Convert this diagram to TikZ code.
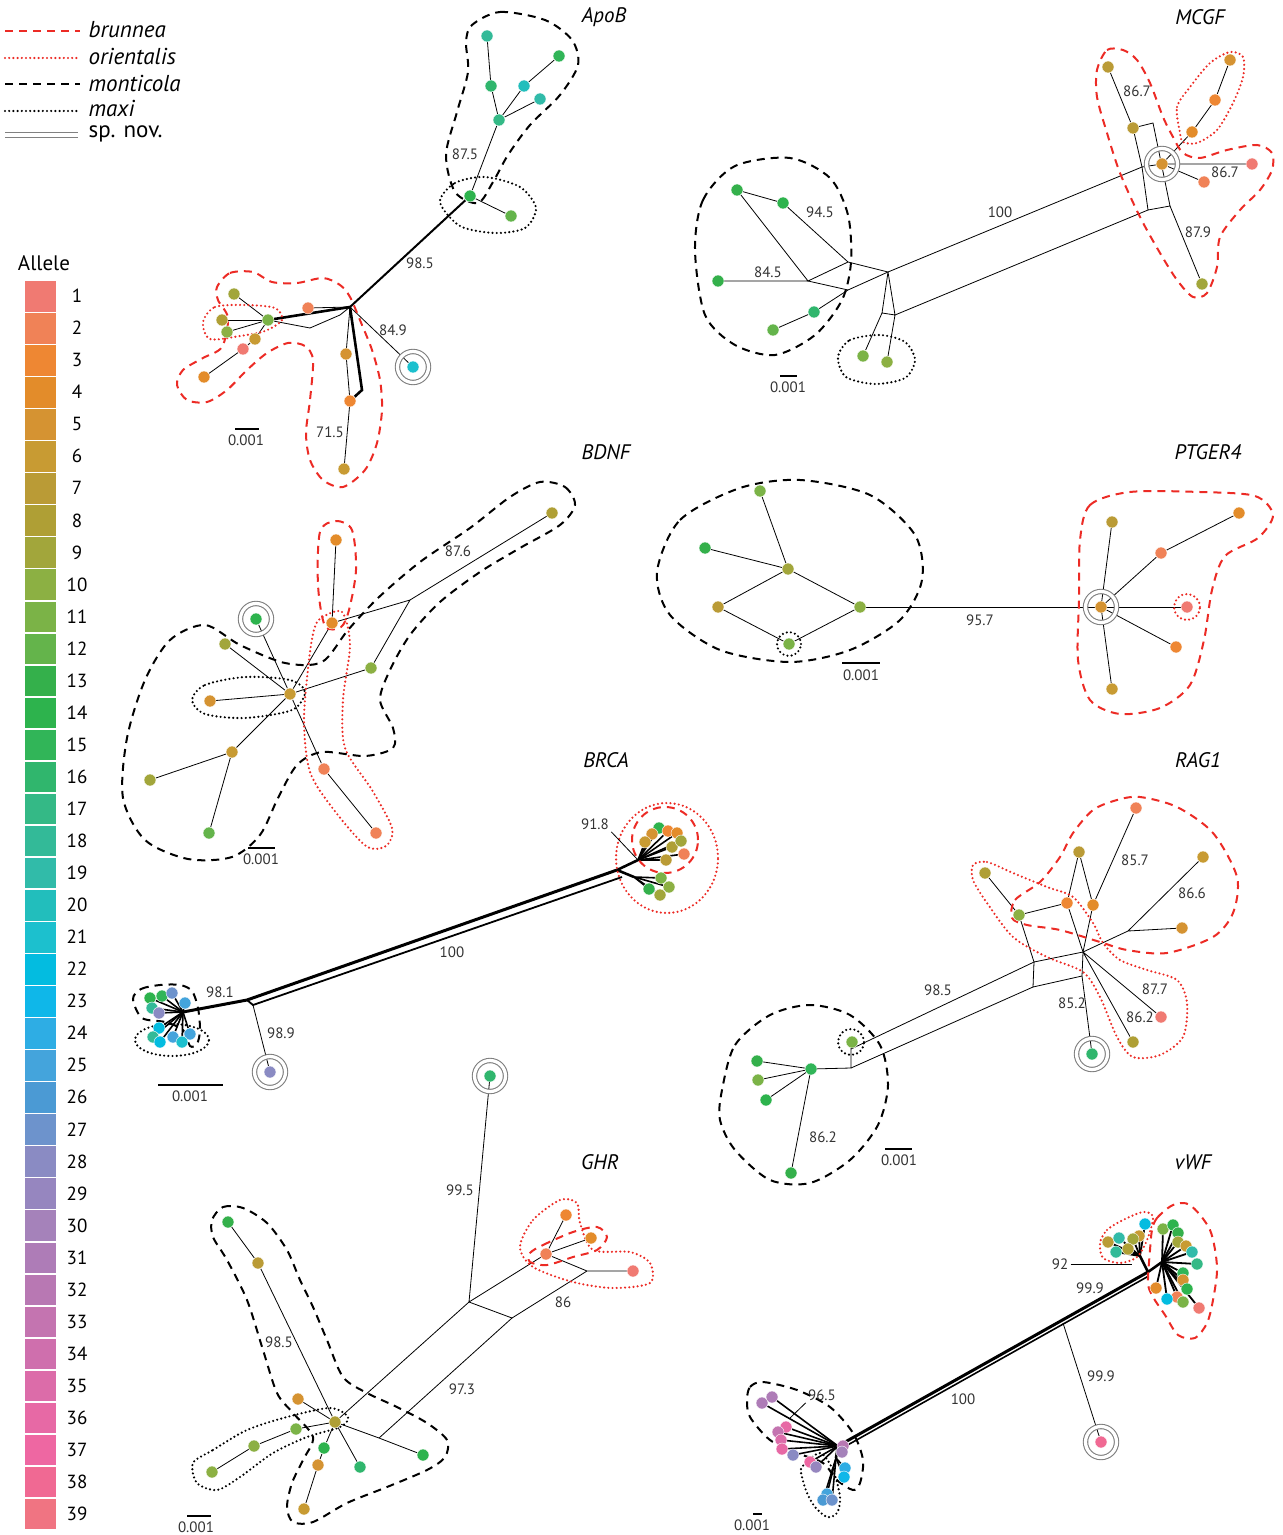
\documentclass[tikz,border=0pt]{standalone}
\usepackage{fontspec}
\setmainfont{PT Sans}
\usetikzlibrary{backgrounds}

% allele colours
\definecolor{al1}{HTML}{F07A72}\definecolor{al2}{HTML}{F08257}\definecolor{al3}{HTML}{EE8733}
\definecolor{al4}{HTML}{E38C2A}\definecolor{al5}{HTML}{D59332}\definecolor{al6}{HTML}{C89B33}
\definecolor{al7}{HTML}{BA9B36}\definecolor{al8}{HTML}{AF9F35}\definecolor{al9}{HTML}{A2A63B}
\definecolor{al10}{HTML}{8CB043}\definecolor{al11}{HTML}{7BB347}\definecolor{al12}{HTML}{64B44B}
\definecolor{al13}{HTML}{34B04B}\definecolor{al14}{HTML}{2DB34D}\definecolor{al15}{HTML}{31B558}
\definecolor{al16}{HTML}{30B66D}\definecolor{al17}{HTML}{34B986}\definecolor{al18}{HTML}{33BA98}
\definecolor{al19}{HTML}{31BBA9}\definecolor{al20}{HTML}{22BEBC}\definecolor{al21}{HTML}{1CC0CE}
\definecolor{al22}{HTML}{03BCE0}\definecolor{al23}{HTML}{0FB7E9}\definecolor{al24}{HTML}{2EADE4}
\definecolor{al25}{HTML}{44A4DC}\definecolor{al26}{HTML}{4B9AD4}\definecolor{al27}{HTML}{6D93CC}
\definecolor{al28}{HTML}{8A8BC3}\definecolor{al29}{HTML}{9686BF}\definecolor{al30}{HTML}{A582BA}
\definecolor{al31}{HTML}{AE7CB7}\definecolor{al32}{HTML}{B878B3}\definecolor{al33}{HTML}{C474B0}
\definecolor{al34}{HTML}{CF6FAD}\definecolor{al35}{HTML}{DC6CA9}\definecolor{al36}{HTML}{E769A5}
\definecolor{al37}{HTML}{EE67A2}\definecolor{al38}{HTML}{F06993}\definecolor{al39}{HTML}{F07482}
\definecolor{bred}{HTML}{EC2B25}

\tikzset{
  al/.style={circle,fill=al#1,draw=white,line width=0.2pt,inner sep=0pt,minimum size=6pt},
  nov/.style={circle,draw=gray,line width=0.55pt,double=white,double distance=1.6pt,inner sep=0pt,minimum size=15.5pt},
  bru/.style={draw=bred,line width=1pt,dash pattern=on 4pt off 3pt},
  ori/.style={draw=bred,line width=1.2pt,line cap=round,dash pattern=on 0pt off 2.1pt},
  mon/.style={draw=black,line width=1pt,dash pattern=on 4pt off 3pt},
  maxi/.style={draw=black,line width=1.2pt,line cap=round,dash pattern=on 0pt off 2.1pt},
  thk/.style={line width=1.3pt},
  bar/.style={line width=1pt},
  bs/.style={font=\fontsize{7.5}{9}\selectfont,text=black!80,inner sep=1pt},
  gene/.style={font=\fontsize{10.5}{12}\selectfont\itshape},
  leg/.style={anchor=west,inner sep=0pt,font=\fontsize{11.5}{13}\selectfont\itshape},
}

\begin{document}
\begin{tikzpicture}[x=0.5pt,y=-0.5pt,line width=0.65pt]
\useasboundingbox (0,0) rectangle (1282,1535);

% legend
\draw[bru] (5,31) -- (80,31);
\draw[ori] (5,58) -- (78,58);
\draw[mon] (5,84) -- (80,84);
\draw[maxi] (5,111) -- (78,111);
\draw[gray,line width=0.7pt] (5,132.5) -- (78,132.5) (5,137.5) -- (78,137.5);
\node[leg] (kbru) at (88,30) {brunnea};
\node[leg] (kori) at (88,57) {orientalis};
\node[leg] (kmon) at (88,83) {monticola};
\node[leg] (kmax) at (88,109) {maxi};
\node[leg,font=\fontsize{11.5}{13}\selectfont] (knov) at (88,134) {sp. nov.};

% allele scale
\node[font=\fontsize{10.5}{12}\selectfont] (allele) at (44,263) {Allele};
\foreach \i in {1,...,39}{
  \fill[al\i] (25,{281+(\i-1)*32.05}) rectangle (56,{279.5+\i*32.05});
  \node[font=\fontsize{9.5}{11}\selectfont] (num\i) at (77,{296+(\i-1)*32.05}) {\i};
}

% ---------------- ApoB
\foreach \n/\x/\y/\c in {ap1/487/36/18, ap2/559/56/15, ap3/491/86/16, ap4/524/86/20, ap5/540/99/19,
  ap6/499/120/17, ap7/470/196/14, ap8/511/216/12, ap9/308/308/2, ap10/268/320/11, ap11/234/294/9,
  ap12/222/320/8, ap13/227/332/10, ap14/255/339/6, ap15/243/349/1, ap16/204/377/4, ap17/346/354/5,
  ap18/350/401/3, ap19/344/469/6, ap20/413/367/21}
  \node[al=\c] (\n) at (\x,\y) {};
\node[nov] (apnov) at (ap20) {};
\coordinate (aph) at (350,307);
\coordinate (apb) at (310,328);
\coordinate (apc) at (340,315);
\coordinate (apd) at (362,390);
\begin{pgfonlayer}{background}
  \draw[thk] (ap10) -- (aph);
  \draw (ap10) -- (apb) -- (apc) -- (aph);
  \draw (ap9) -- (aph) -- (ap20);
  \draw (aph) -- (ap17) -- (ap18);
  \draw[thk] (aph) -- (apd) -- (ap18);
  \draw (ap18) -- (ap19);
  \foreach \m in {ap11,ap12,ap13,ap14} \draw (ap10) -- (\m);
  \draw (ap14) -- (ap15) -- (ap16);
  \draw[line width=1pt] (aph) -- (ap7);
  \draw (ap7) -- (ap6) (ap7) -- (ap8);
  \draw (ap6) -- (ap3) -- (ap1) (ap6) -- (ap4) -- (ap2) (ap6) -- (ap5);
  \draw[mon] plot[smooth cycle] coordinates {(472,25) (500,12) (545,20) (572,40) (578,65) (560,95) (530,125) (508,155) (493,182) (478,203) (455,192) (446,155) (457,112) (468,72) (466,42)};
  \draw[maxi] plot[smooth cycle] coordinates {(440,202) (455,183) (485,177) (520,187) (536,208) (525,228) (495,233) (460,226)};
  \draw[bru] plot[smooth cycle] coordinates {(217,287) (230,273) (253,272) (272,282) (297,283) (323,278) (340,285) (350,297) (362,325) (372,350) (380,380) (382,410) (377,443) (365,470) (343,487) (323,480) (310,460) (306,433) (310,400) (313,360) (305,346) (288,343) (267,353) (247,370) (227,390) (207,402) (187,400) (177,385) (183,370) (203,358) (222,347) (228,318) (218,300)};
  \draw[ori] plot[smooth cycle] coordinates {(203,322) (215,307) (245,305) (275,308) (282,320) (265,331) (240,336) (210,339)};
\end{pgfonlayer}
\node[gene] (apT) at (604,17) {ApoB};
\node[bs] (ap985) at (420,263) {98.5};
\node[bs] (ap875) at (465,154) {87.5};
\node[bs] (ap849) at (393,330) {84.9};
\node[bs] (ap715) at (330,432) {71.5};
\draw[bar] (235,429) -- (259,429);
\node[bs] (apsc) at (246,440) {0.001};

% ---------------- MCGF
\foreach \n/\x/\y/\c in {mc1/1108/67/7, mc2/1133/128/7, mc3/1230/60/5, mc4/1215/100/3, mc5/1192/132/4,
  mc6/1162/164/5, mc7/1252/164/1, mc8/1204/182/2, mc9/1202/284/9, mc10/737/190/13, mc11/783/203/14,
  mc12/718/281/13, mc13/773/330/12, mc14/814/312/16, mc15/863/356/11, mc16/887/362/10}
  \node[al=\c] (\n) at (\x,\y) {};
\node[nov] (mcnov) at (mc6) {};
\coordinate (mca) at (1153,123);
\coordinate (mcb) at (1170,206);
\coordinate (mcc) at (1148,210);
\coordinate (mcd) at (1142,167);
\coordinate (mce) at (888,272);
\coordinate (mcf) at (895,315);
\coordinate (mcg) at (848,262);
\coordinate (mch) at (808,281);
\coordinate (mci) at (848,290);
\coordinate (mcj) at (882,313);
\begin{pgfonlayer}{background}
  \draw (mc1) -- (mc2) -- (mcd) -- (mcc) -- (mcb) -- (mca) -- (mc2);
  \draw (mcb) -- (mc9);
  \draw (mcd) -- (mc6) -- (mc5) -- (mc4) -- (mc3);
  \draw (mc6) -- (mc7) (mc6) -- (mc8);
  \draw (mcd) -- (mce) (mcc) -- (mcf);
  \draw (mc10) -- (mc11) -- (mcg) -- (mce) -- (mci) -- (mch) -- (mcg);
  \draw (mc10) -- (mch) -- (mc12);
  \draw (mci) -- (mc14) -- (mc13);
  \draw (mce) -- (mcf) -- (mc16) (mce) -- (mcj) -- (mc15) (mcj) -- (mcf);
  \draw[bru] plot[smooth cycle] coordinates {(1097,70) (1107,50) (1123,50) (1137,60) (1150,83) (1163,117) (1173,137) (1183,153) (1200,158) (1227,150) (1257,145) (1272,153) (1272,170) (1260,190) (1240,210) (1220,237) (1217,267) (1207,293) (1193,297) (1177,280) (1160,253) (1140,217) (1120,173) (1107,133) (1097,97)};
  \draw[ori] plot[smooth cycle] coordinates {(1180,133) (1177,107) (1190,87) (1210,63) (1230,52) (1243,57) (1243,77) (1233,103) (1217,130) (1197,143) (1183,142)};
  \draw[mon] plot[smooth cycle] coordinates {(695,250) (703,200) (735,166) (790,158) (830,178) (848,215) (851,262) (842,300) (815,335) (775,355) (735,345) (705,315)};
  \draw[maxi] plot[smooth cycle] coordinates {(838,357) (850,340) (880,335) (905,342) (915,360) (905,378) (875,384) (846,377)};
\end{pgfonlayer}
\node[gene] (mcT) at (1200,17) {MCGF};
\node[bs] (mc867a) at (1137,91) {86.7};
\node[bs] (mc867b) at (1225,172) {86.7};
\node[bs] (mc879) at (1198,232) {87.9};
\node[bs] (mc100) at (1000,212) {100};
\node[bs] (mc945) at (820,212) {94.5};
\node[bs] (mc845) at (768,272) {84.5};
\draw[bar] (780,376) -- (797,376);
\node[bs] (mcsc) at (788,387) {0.001};

% ---------------- BDNF
\foreach \n/\x/\y/\c in {bd1/552/513/8, bd2/336/540/4, bd3/256/619/14, bd4/332/623/4, bd5/225/644/9,
  bd6/371/668/10, bd7/290/694/6, bd8/210/701/5, bd9/232/752/6, bd10/150/780/9, bd11/209/833/12,
  bd12/324/769/2, bd13/376/833/2}
  \node[al=\c] (\n) at (\x,\y) {};
\node[nov] (bdnov) at (bd3) {};
\coordinate (bda) at (410,600);
\begin{pgfonlayer}{background}
  \draw (bd1) -- (bda) -- (bd4) (bda) -- (bd6) -- (bd7);
  \draw (bd2) -- (bd4) -- (bd7);
  \foreach \m in {bd3,bd5,bd8,bd9,bd12} \draw (bd7) -- (\m);
  \draw (bd9) -- (bd10) (bd9) -- (bd11) (bd12) -- (bd13);
  \draw[mon] plot[smooth cycle] coordinates {(540,482) (565,487) (575,505) (560,525) (520,548) (480,572) (440,602) (410,635) (390,670) (380,700) (393,728) (393,748) (365,756) (322,752) (297,765) (278,798) (260,835) (232,857) (188,859) (145,840) (123,798) (127,738) (145,680) (170,640) (205,625) (240,645) (285,663) (322,662) (348,630) (378,598) (420,562) (470,528) (510,497)};
  \draw[ori] plot[smooth cycle] coordinates {(321,618) (342,612) (350,645) (343,700) (345,748) (372,790) (392,828) (386,846) (366,846) (334,810) (310,772) (304,720) (309,660) (314,630)};
  \draw[bru] plot[smooth cycle] coordinates {(320,532) (336,521) (352,530) (356,570) (349,610) (341,627) (325,626) (318,585)};
  \draw[maxi] plot[smooth cycle] coordinates {(192,700) (205,685) (245,677) (290,680) (305,692) (292,710) (245,718) (205,714)};
\end{pgfonlayer}
\node[gene] (bdT) at (606,452) {BDNF};
\node[bs] (bd876) at (458,551) {87.6};
\draw[bar] (248,848) -- (275,848);
\node[bs] (bdsc) at (261,859) {0.001};

% ---------------- PTGER4
\foreach \n/\x/\y/\c in {pt1/760/491/11, pt2/705/548/13, pt3/788/569/9, pt4/718/607/7, pt5/860/607/10,
  pt6/789/644/11, pt7/1112/522/7, pt8/1239/513/4, pt9/1161/553/2, pt10/1101/607/5, pt11/1187/607/1,
  pt12/1176/647/3, pt13/1112/689/6}
  \node[al=\c] (\n) at (\x,\y) {};
\node[nov] (ptnov) at (pt10) {};
\begin{pgfonlayer}{background}
  \draw (pt1) -- (pt3) -- (pt2) (pt3) -- (pt4) -- (pt6) -- (pt5) -- (pt3);
  \draw (pt5) -- (pt10);
  \foreach \m in {pt7,pt9,pt11,pt12,pt13} \draw (pt10) -- (\m);
  \draw (pt9) -- (pt8);
  \draw[mon] plot[smooth cycle] coordinates {(657,572) (680,520) (740,488) (800,480) (870,495) (915,535) (922,580) (900,620) (850,650) (790,662) (720,650) (670,615)};
  \draw[maxi] (pt6) circle[radius=6pt];
  \draw[ori] (pt11) circle[radius=6.5pt];
  \draw[bru] plot[smooth cycle] coordinates {(1080,540) (1090,505) (1130,492) (1200,492) (1255,496) (1273,515) (1258,538) (1225,556) (1212,590) (1204,640) (1190,685) (1160,708) (1120,714) (1090,700) (1078,660) (1079,600)};
\end{pgfonlayer}
\node[gene] (ptT) at (1208,452) {PTGER4};
\node[bs] (pt957) at (980,620) {95.7};
\draw[bar] (842,663) -- (880,663);
\node[bs] (ptsc) at (861,675) {0.001};

% ---------------- BRCA
\foreach \n/\x/\y/\c in {bc1/659/828/14, bc2/652/834/5, bc3/668/831/3, bc4/677/833/4, bc5/645/842/6,
  bc6/672/847/8, bc7/681/841/9, bc8/684/854/2, bc9/666/860/7, bc10/661/878/11, bc11/669/887/10,
  bc12/649/889/13, bc13/660/895/9, bc14/150/998/14, bc15/162/996/15, bc16/172/993/27, bc17/185/1003/25,
  bc18/152/1008/18, bc19/159/1013/28, bc20/159/1028/22, bc21/153/1037/18, bc22/173/1037/25,
  bc23/190/1034/25, bc24/160/1042/22, bc25/182/1042/21, bc26/270/1072/28}
  \node[al=\c] (\n) at (\x,\y) {};
\node[nov] (bcnov) at (bc26) {};
\coordinate (bcr) at (617,870);
\coordinate (bcr2) at (622,877);
\coordinate (bcs) at (638,860);
\coordinate (bct) at (634,877);
\coordinate (bcl) at (247,1000);
\coordinate (bcl2) at (253,1005);
\coordinate (bcm) at (183,1012);
\begin{pgfonlayer}{background}
  \draw[line width=1.5pt] (bcr) -- (bcl) -- (bcm);
  \draw[line width=0.9pt] (bcr2) -- (bcl2) -- (bcl);
  \draw (bcl2) -- (bc26);
  \draw[thk] (bcr) -- (bcs) (bcr) -- (bct);
  \foreach \m in {bc1,bc2,bc3,bc4,bc5,bc6,bc7,bc8,bc9} \draw[line width=0.8pt] (bcs) -- (\m);
  \foreach \m in {bc10,bc11,bc12,bc13} \draw[line width=0.8pt] (bct) -- (\m);
  \foreach \m in {bc14,bc15,bc16,bc17,bc18,bc19,bc20,bc21,bc22,bc23,bc24,bc25} \draw[line width=0.8pt] (bcm) -- (\m);
  \draw[ori] (667,858) ellipse (25.5pt and 27.5pt);
  \draw[bru] (665,840) circle[radius=16.5pt];
  \draw[mon] plot[smooth cycle] coordinates {(133,999) (141,989) (160,985) (180,985) (192,991) (198,1008) (200,1030) (197,1044) (190,1046) (183,1030) (165,1022) (142,1018)};
  \draw[maxi] (172,1040) ellipse (18.5pt and 8pt);
\end{pgfonlayer}
\node[gene] (bcT) at (606,760) {BRCA};
\node[bs] (bc918) at (595,824) {91.8};
\draw (bc918.south east) -- (bcs);
\node[bs] (bc100) at (452,952) {100};
\node[bs] (bc981) at (220,992) {98.1};
\node[bs] (bc989) at (281,1033) {98.9};
\draw[bar] (158,1085) -- (223,1085);
\node[bs] (bcsc) at (190,1096) {0.001};

% ---------------- RAG1
\foreach \n/\x/\y/\c in {rg1/1136/808/2, rg2/1079/852/7, rg3/1203/857/6, rg4/985/873/8, rg5/1019/915/10,
  rg6/1067/903/3, rg7/1093/905/4, rg8/1182/928/5, rg9/1161/1017/1, rg10/1133/1042/8, rg11/852/1042/11,
  rg12/1092/1054/16, rg13/811/1069/15, rg14/757/1061/13, rg15/758/1080/11, rg16/766/1100/14, rg17/791/1173/13}
  \node[al=\c] (\n) at (\x,\y) {};
\node[nov] (rgnov) at (rg12) {};
\coordinate (rgh) at (1083,952);
\coordinate (rga) at (1128,931);
\coordinate (rgb) at (1034,962);
\coordinate (rgc) at (1033,987);
\coordinate (rgd) at (1082,976);
\coordinate (rge) at (851,1049);
\coordinate (rgf) at (851,1068);
\begin{pgfonlayer}{background}
  \draw (rg4) -- (rg5) -- (rg6) -- (rgh) -- (rg7) -- (rg2) -- (rg6);
  \draw (rg1) -- (rg7);
  \draw (rg5) -- (rgb) -- (rgh) (rgb) -- (rgc) -- (rgd);
  \draw (rgh) -- (rgd) -- (rg12);
  \draw (rgh) -- (rga) -- (rg3) (rga) -- (rg8);
  \draw (rgh) -- (rg9) (rgh) -- (rg10);
  \draw (rgb) -- (rge) (rgc) -- (rgf);
  \draw (rg11) -- (rge) -- (rgf) -- (rg13);
  \foreach \m in {rg14,rg15,rg16,rg17} \draw (rg13) -- (\m);
  \draw[bru] plot[smooth cycle] coordinates {(1012,918) (1015,900) (1040,882) (1060,857) (1073,833) (1093,810) (1117,800) (1140,797) (1177,807) (1213,833) (1237,877) (1233,913) (1213,937) (1167,953) (1127,950) (1100,942) (1060,930) (1027,925)};
  \draw[ori] plot[smooth cycle] coordinates {(973,865) (987,862) (1013,873) (1047,887) (1073,897) (1093,923) (1103,943) (1120,960) (1147,970) (1177,980) (1187,1003) (1183,1037) (1160,1055) (1133,1057) (1117,1037) (1100,997) (1083,972) (1047,957) (1013,937) (987,903) (973,880)};
  \draw[mon] plot[smooth cycle] coordinates {(722,1090) (735,1045) (770,1015) (810,1005) (850,1015) (880,1045) (888,1085) (878,1125) (850,1160) (810,1183) (770,1180) (735,1150) (720,1120)};
  \draw[maxi] (851,1042) circle[radius=6.5pt];
\end{pgfonlayer}
\node[gene] (rgT) at (1198,760) {RAG1};
\node[bs] (rg857) at (1135,860) {85.7};
\node[bs] (rg866) at (1192,893) {86.6};
\node[bs] (rg877) at (1155,989) {87.7};
\node[bs] (rg862a) at (1140,1017) {86.2};
\node[bs] (rg852) at (1072,1003) {85.2};
\node[bs] (rg985) at (938,990) {98.5};
\node[bs] (rg862b) at (823,1137) {86.2};
\draw[bar] (885,1149) -- (912,1149);
\node[bs] (rgsc) at (899,1160) {0.001};

% ---------------- GHR
\foreach \n/\x/\y/\c in {gh1/490/1076/16, gh2/566/1215/3, gh3/591/1238/4, gh4/546/1254/2, gh5/633/1271/1,
  gh6/228/1222/13, gh7/258/1263/7, gh8/298/1399/5, gh9/335/1422/8, gh10/296/1429/11, gh11/254/1446/10,
  gh12/212/1472/10, gh13/324/1448/14, gh14/360/1467/16, gh15/318/1465/5, gh16/304/1509/6, gh17/423/1455/14}
  \node[al=\c] (\n) at (\x,\y) {};
\node[nov] (ghnov) at (gh1) {};
\coordinate (ghx) at (469,1302);
\coordinate (ghy) at (512,1318);
\coordinate (ghz) at (587,1271);
\coordinate (ghw) at (379,1438);
\begin{pgfonlayer}{background}
  \draw (gh1) -- (ghx) -- (gh4) -- (ghz) -- (gh5) (ghx) -- (ghy) -- (ghz);
  \draw (gh4) -- (gh2) (gh4) -- (gh3);
  \draw (ghx) -- (gh9) -- (ghw) -- (gh17) (ghy) -- (ghw);
  \draw (gh9) -- (gh7) -- (gh6) (gh9) -- (gh8);
  \draw (gh9) -- (gh10) -- (gh11) -- (gh12);
  \draw (gh9) -- (gh13) -- (gh15) -- (gh16) (gh9) -- (gh14);
  \draw[mon] plot[smooth cycle] coordinates {(212,1220) (223,1207) (243,1208) (267,1223) (287,1250) (300,1280) (313,1307) (327,1340) (343,1377) (367,1393) (397,1407) (427,1423) (447,1440) (445,1457) (427,1470) (387,1487) (347,1503) (313,1522) (293,1522) (287,1507) (292,1483) (303,1460) (313,1437) (293,1413) (277,1393) (263,1350) (247,1300) (227,1260) (213,1237)};
  \draw[maxi] plot[smooth cycle] coordinates {(193,1463) (213,1450) (247,1430) (287,1417) (330,1408) (348,1417) (340,1427) (307,1437) (273,1453) (240,1477) (217,1490) (197,1483)};
  \draw[ori] plot[smooth cycle] coordinates {(520,1247) (533,1220) (560,1200) (577,1203) (580,1223) (593,1250) (630,1252) (650,1263) (650,1283) (613,1288) (573,1282) (533,1267)};
  \draw[bru] plot[smooth cycle] coordinates {(530,1253) (543,1245) (573,1232) (597,1227) (607,1237) (597,1250) (573,1257) (547,1265) (530,1262)};
\end{pgfonlayer}
\node[gene] (ghT) at (600,1162) {GHR};
\node[bs] (gh995) at (460,1190) {99.5};
\node[bs] (gh86) at (563,1302) {86};
\node[bs] (gh973) at (462,1389) {97.3};
\node[bs] (gh985) at (279,1342) {98.5};
\draw[bar] (187,1516) -- (211,1516);
\node[bs] (ghsc) at (196,1527) {0.001};

% ---------------- vWF
\foreach \n/\x/\y/\c in {vw1/1108/1242/7, vw2/1119/1238/19, vw3/1116/1252/18, vw4/1139/1236/6, vw5/1133/1239/9,
  vw6/1128/1249/8, vw7/1145/1224/22, vw8/1163/1229/11, vw9/1173/1225/14, vw10/1178/1233/13, vw11/1178/1242/9,
  vw12/1186/1246/6, vw13/1192/1252/19, vw14/1197/1264/17, vw15/1183/1273/15, vw16/1183/1280/5, vw17/1156/1288/4,
  vw18/1187/1289/14, vw19/1177/1297/2, vw20/1167/1299/22, vw21/1183/1302/11, vw22/1199/1308/1,
  vw23/762/1403/31, vw24/772/1397/31, vw25/786/1427/36, vw26/778/1432/33, vw27/781/1440/35, vw28/782/1449/36,
  vw29/793/1455/28, vw30/810/1462/37, vw31/816/1467/29, vw32/843/1446/32, vw33/842/1452/30, vw34/845/1468/24,
  vw35/844/1477/23, vw36/827/1494/25, vw37/823/1500/26, vw38/832/1500/27, vw39/1101/1442/38}
  \node[al=\c] (\n) at (\x,\y) {};
\node[nov] (vwnov) at (vw39) {};
\coordinate (vwh) at (1148,1272);
\coordinate (vwq) at (1140,1256);
\coordinate (vwr) at (1162,1262);
\coordinate (vwl) at (838,1446);
\coordinate (vwp) at (836,1458);
\coordinate (vwb) at (1063,1323);
\coordinate (vwk) at (1132,1264);
\coordinate (vwm) at (790,1418);
\begin{pgfonlayer}{background}
  \draw[line width=1.5pt] (vwh) -- (vwl);
  \draw[line width=0.8pt] ([yshift=-2.2pt]vwh) -- ([yshift=-2.2pt]vwl);
  \draw (vwb) -- (vw39);
  \draw[thk] (vwh) -- (vwq) (vwh) -- (vwr);
  \foreach \m in {vw1,vw2,vw3,vw4,vw5,vw6,vw7} \draw[line width=0.9pt] (vwq) -- (\m);
  \foreach \m in {vw8,vw9,vw10,vw11,vw12,vw13,vw14,vw15,vw16,vw17,vw18,vw19,vw20,vw21,vw22} \draw[line width=0.9pt] (vwr) -- (\m);
  \foreach \m in {vw23,vw24,vw25,vw26,vw27,vw28,vw29,vw30,vw31} \draw[line width=0.8pt] (vwl) -- (\m);
  \draw[thk] (vwl) -- (vwp);
  \foreach \m in {vw34,vw35,vw36,vw37,vw38} \draw[line width=0.8pt] (vwp) -- (\m);
  \draw[ori] plot[smooth cycle] coordinates {(1100,1243) (1107,1230) (1123,1220) (1143,1212) (1153,1217) (1147,1240) (1137,1257) (1120,1263) (1103,1258)};
  \draw[bru] plot[smooth cycle] coordinates {(1152,1230) (1157,1218) (1173,1205) (1190,1205) (1210,1230) (1217,1267) (1213,1300) (1207,1323) (1195,1338) (1178,1335) (1165,1315) (1153,1297) (1148,1283) (1150,1250)};
  \draw[mon] plot[smooth cycle] coordinates {(747,1400) (750,1387) (763,1382) (797,1390) (830,1407) (853,1433) (863,1460) (860,1483) (853,1490) (837,1480) (823,1463) (797,1453) (770,1440) (750,1417)};
  \draw[maxi] plot[smooth cycle] coordinates {(802,1467) (820,1453) (833,1470) (840,1497) (837,1513) (827,1517) (815,1507) (807,1493) (802,1477)};
\end{pgfonlayer}
\node[gene] (vwT) at (1193,1162) {vWF};
\node[bs] (vw92) at (1060,1264) {92};
\draw (vw92.east) -- (vwk);
\node[bs] (vw999a) at (1090,1288) {99.9};
\node[bs] (vw100) at (963,1399) {100};
\node[bs] (vw999b) at (1101,1376) {99.9};
\node[bs] (vw965) at (822,1395) {96.5};
\draw (vw965.south west) -- (vwm);
\draw[bar] (753,1514) -- (762,1514);
\node[bs] (vwsc) at (752,1525) {0.001};
\end{tikzpicture}
\end{document}
